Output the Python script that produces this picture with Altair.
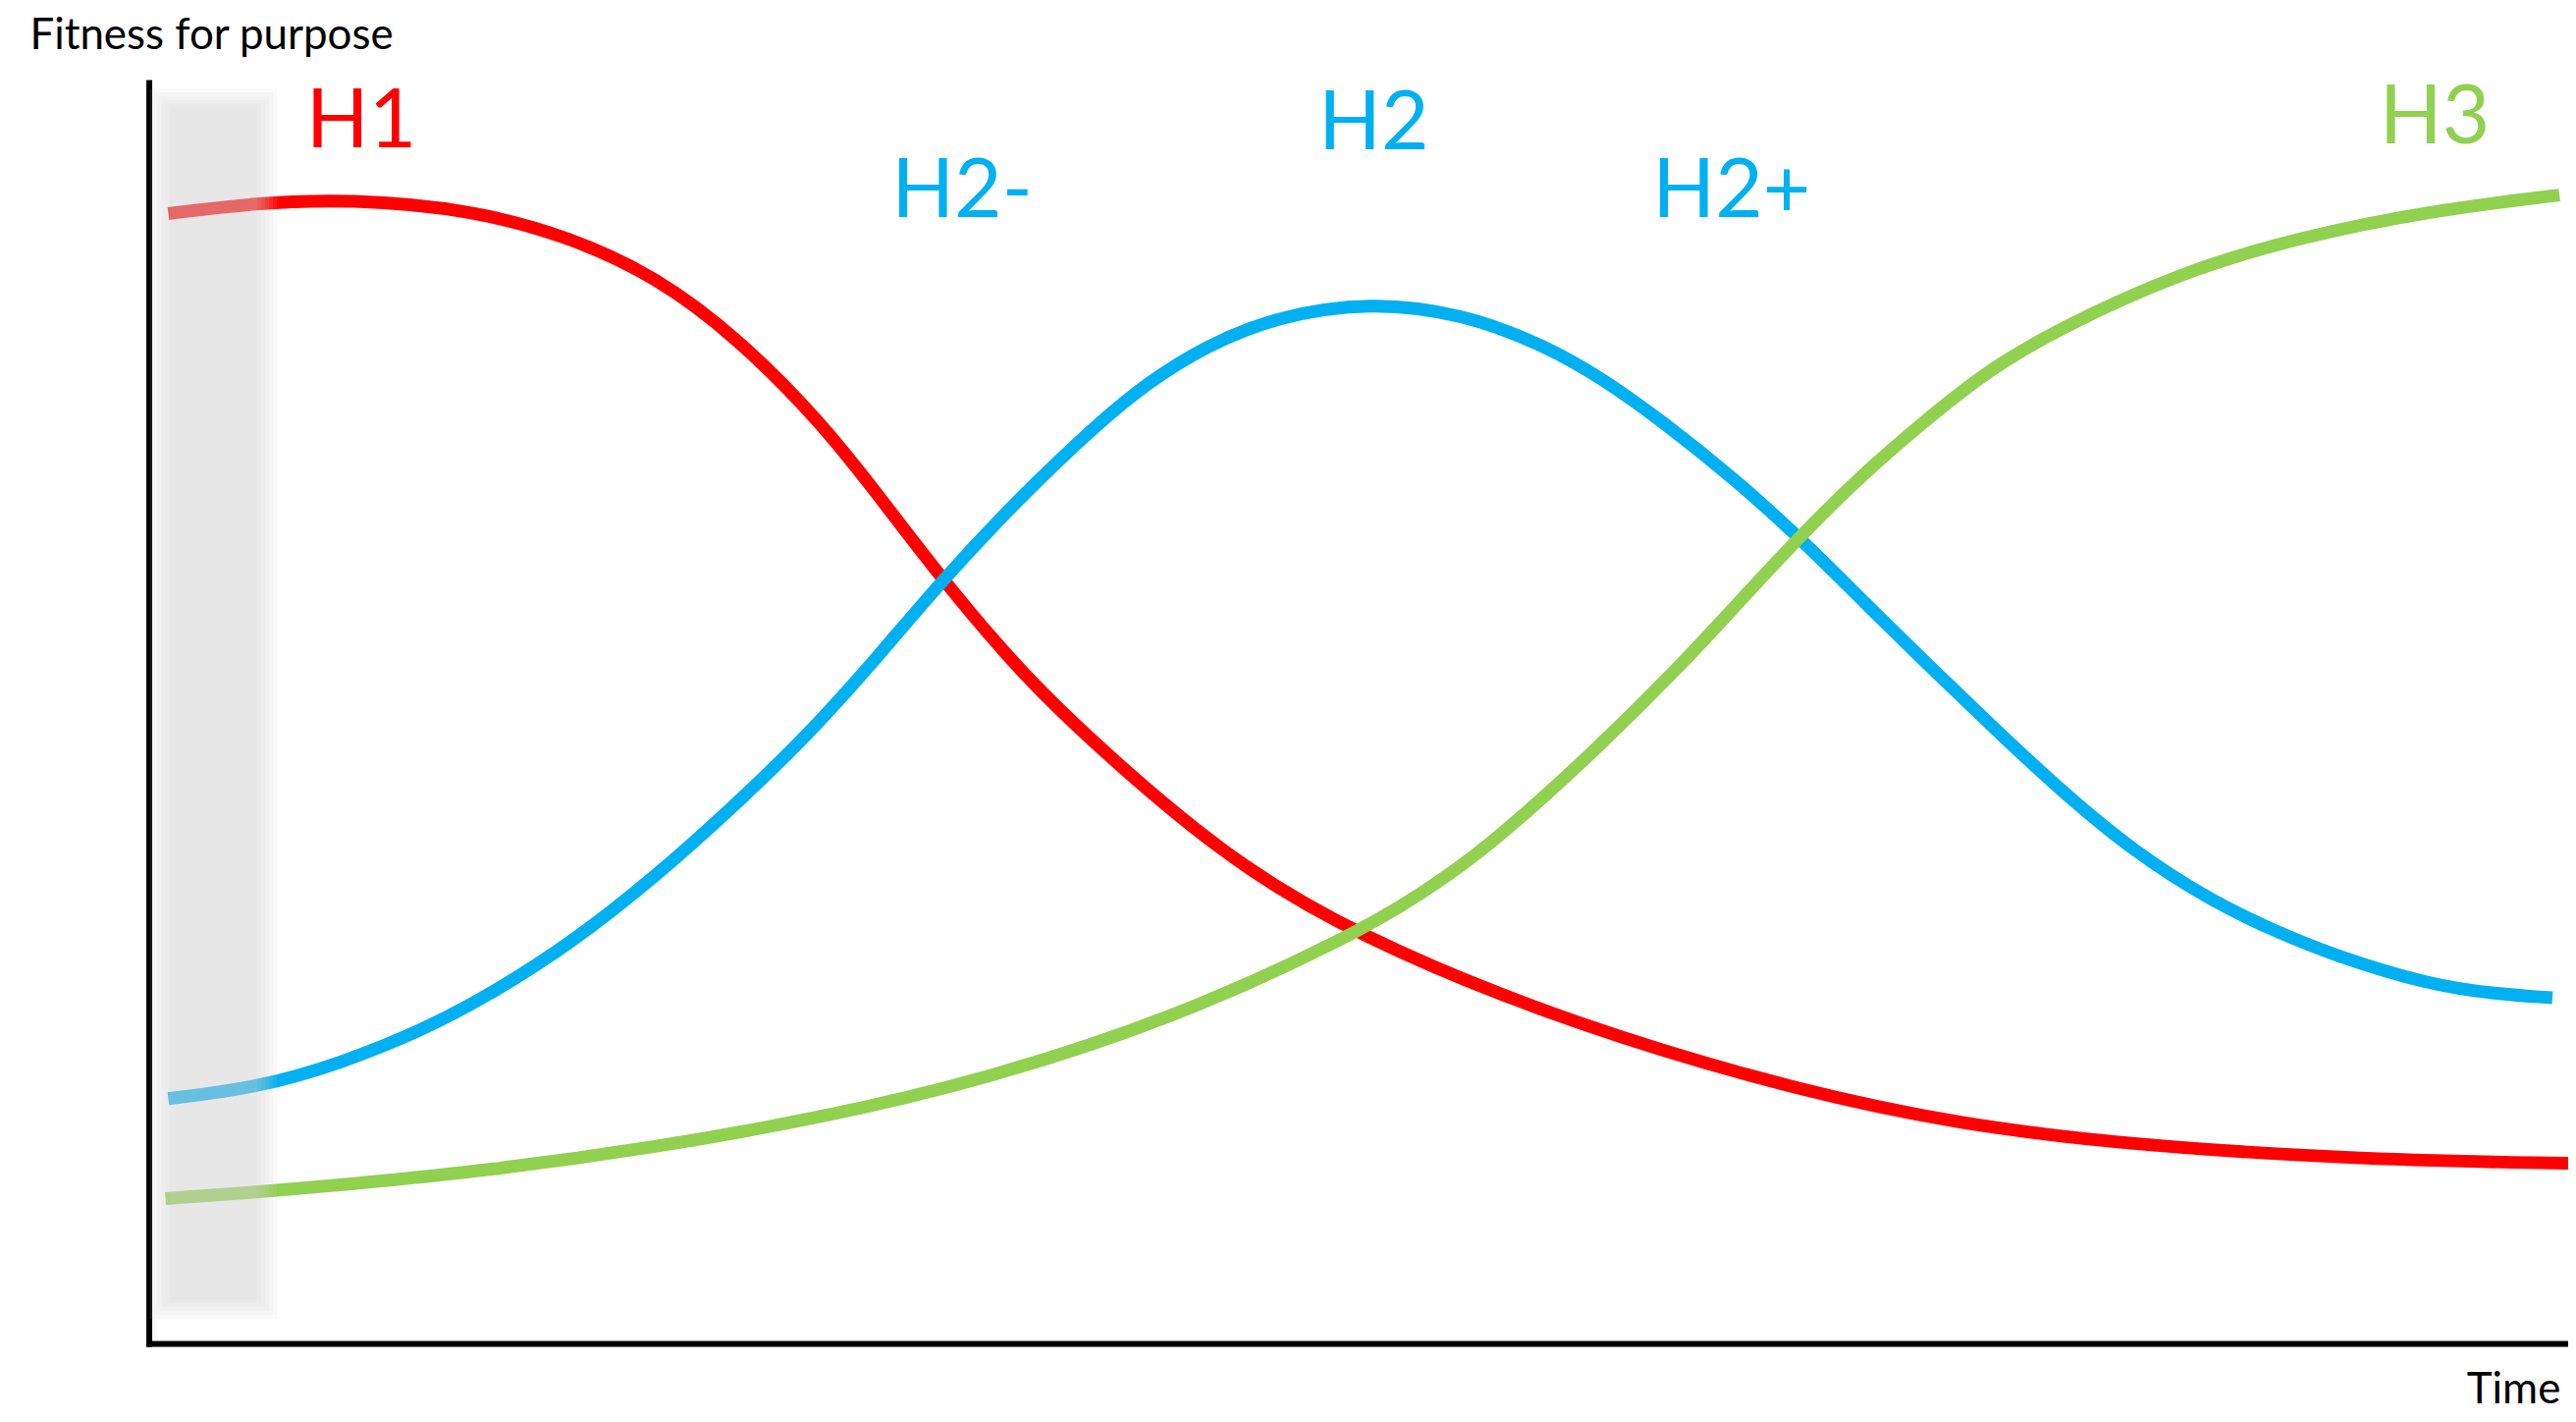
import altair as alt
import pandas as pd

# ---- data (time 0-100, fitness 0-100) ----
series_names = ["H1", "H2", "H3"]
series_colors = ["#FF0000", "#00B0F0", "#92D050"]

h1_time = [0.81, 4.37, 8.29, 13.39, 17.44, 20.95, 24.31, 27.83, 30.26, 32.81, 35.92, 38.75, 44.30, 49.80, 59.10, 68.69, 74.76, 80.83, 90.94, 100.0]
h1_fit = [89.60, 90.45, 90.76, 89.91, 87.73, 84.63, 79.81, 72.98, 67.00, 60.56, 53.49, 48.14, 38.82, 32.38, 25.08, 19.80, 17.47, 15.92, 14.60, 14.29]

h2_time = [0.81, 4.65, 8.01, 11.25, 14.16, 17.52, 20.91, 24.19, 27.23, 30.26, 32.81, 35.92, 39.24, 41.26, 43.69, 46.60, 50.49, 54.29,
           57.69, 60.19, 62.66, 65.45, 68.20, 70.91, 73.67, 76.38, 78.80, 82.04, 85.40, 87.82, 90.25, 94.30, 97.01, 99.35]
h2_fit = [19.41, 20.34, 22.28, 24.77, 27.72, 31.83, 36.96, 42.62, 48.21, 54.74, 60.56, 66.93, 72.98, 76.16, 79.11, 81.44, 82.61, 81.68,
          79.19, 76.40, 72.98, 68.71, 63.98, 58.77, 53.57, 48.60, 44.25, 38.98, 34.94, 32.76, 30.82, 28.42, 27.72, 27.41]

h3_time = [0.69, 4.65, 8.01, 14.16, 20.91, 27.71, 34.47, 42.39, 49.80, 52.51, 55.06, 59.18, 63.35, 65.86, 68.20, 70.71, 73.34, 75.97,
           78.80, 84.06, 88.92, 94.30, 99.64]
h3_fit = [11.49, 12.03, 12.58, 13.74, 15.53, 17.86, 20.88, 25.78, 32.38, 35.56, 38.90, 45.89, 53.80, 59.08, 63.90, 68.71, 73.06, 77.10,
          80.36, 85.02, 87.73, 89.83, 91.07]

label_text = ["H1", "H2-", "H2", "H2+", "H3"]
label_series = ["H1", "H2", "H2", "H2", "H3"]
label_time = [6.50, 30.70, 48.35, 62.15, 92.20]
label_fit = [94.88, 89.36, 94.72, 89.36, 95.19]

# highlighted early period (shaded band)
band_time = [0.45, 4.89]
band_fit = [2.72, 98.76]

# ---- layout ----
W, H = 2472, 1288
PAD = {"left": 144, "top": 74, "right": 0, "bottom": 70}
FONT = "Lato"

rows = []
for name, ts, fs in [("H1", h1_time, h1_fit), ("H2", h2_time, h2_fit), ("H3", h3_time, h3_fit)]:
    for i, (t, f) in enumerate(zip(ts, fs)):
        rows.append({"series": name, "order": i, "time": t, "fitness": f})
df = pd.DataFrame(rows)

labels = pd.DataFrame({"text": label_text, "series": label_series,
                       "time": label_time, "fitness": label_fit})

# soft-edged band: nested translucent rectangles
px_x = W / 100.0
px_y = H / 100.0
band_rows = []
for d in [10, 6, 2, -2, -6, -10]:
    band_rows.append({
        "x1": band_time[0] - d / px_x, "x2": band_time[1] + d / px_x,
        "y1": band_fit[0] - d / px_y, "y2": band_fit[1] + d / px_y,
    })
band = pd.DataFrame(band_rows)

xs = alt.Scale(domain=[0, 100], nice=False, zero=False)
ys = alt.Scale(domain=[0, 100], nice=False, zero=False)
cs = alt.Scale(domain=series_names, range=series_colors)

x_axis = alt.Axis(title="Time", domain=True, domainColor="black", domainWidth=6,
                  domainCap="square", ticks=False, labels=False, grid=False,
                  titleFont=FONT, titleFontSize=44, titleFontWeight="normal",
                  titleColor="black", titleAlign="left", titleBaseline="alphabetic",
                  titleAngle=0, titleX=2368, titleY=61)
y_axis = alt.Axis(title="Fitness for purpose", domain=True, domainColor="black",
                  domainWidth=6, domainCap="square", ticks=False, labels=False,
                  grid=False, titleFont=FONT, titleFontSize=44,
                  titleFontWeight="normal", titleColor="black", titleAlign="left",
                  titleBaseline="alphabetic", titleAngle=0, titleX=-122, titleY=-35)

lines = alt.Chart(df).mark_line(strokeWidth=13, interpolate="basis",
                                strokeCap="butt").encode(
    x=alt.X("time:Q", scale=xs, axis=x_axis),
    y=alt.Y("fitness:Q", scale=ys, axis=y_axis),
    color=alt.Color("series:N", scale=cs, legend=None),
    detail="series:N",
    order="order:Q",
)

shade = alt.Chart(band).mark_rect(color="#D5D5D5", opacity=0.11).encode(
    x=alt.X("x1:Q", scale=xs, axis=x_axis),
    x2="x2:Q",
    y=alt.Y("y1:Q", scale=ys, axis=y_axis),
    y2="y2:Q",
)

text = alt.Chart(labels).mark_text(font=FONT, fontSize=84, fontWeight="normal",
                                   align="left", baseline="alphabetic").encode(
    x=alt.X("time:Q", scale=xs, axis=x_axis),
    y=alt.Y("fitness:Q", scale=ys, axis=y_axis),
    text="text:N",
    color=alt.Color("series:N", scale=cs, legend=None),
)

chart = alt.layer(lines, shade, text).properties(
    width=W, height=H, padding=PAD,
    autosize=alt.AutoSizeParams(type="none"),
    background="white",
).configure_view(stroke=None)

chart.save("out.html", embed_options={"renderer": "svg", "actions": False})
